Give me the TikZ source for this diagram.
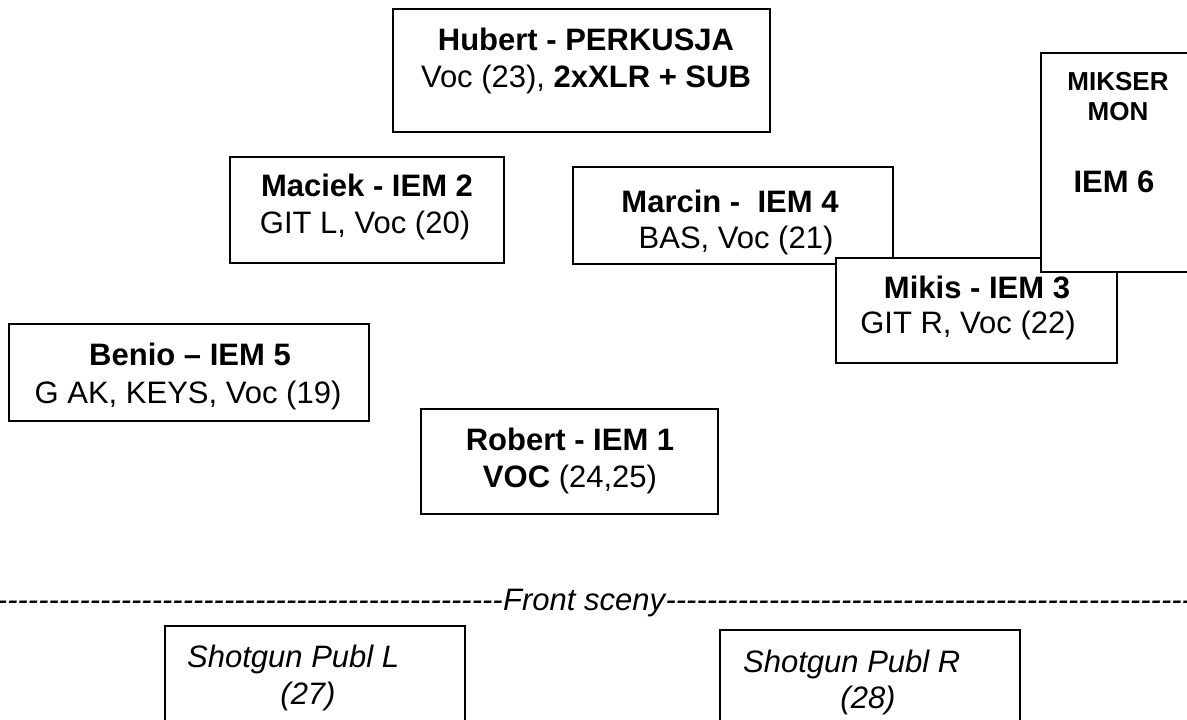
\documentclass[tikz,border=0pt]{standalone}
\usepackage{fontspec}
\setmainfont{Liberation Sans}
\newcommand\hyphrow[1]{\foreach \k in {1,...,#1}{-}}
\tikzset{
  box/.style={draw, line width=1.6pt, fill=white, rectangle, inner sep=0pt, outer sep=0pt, anchor=north west},
  reg/.style={anchor=base, inner sep=0pt, font=\fontsize{31}{37}\selectfont},
  bld/.style={anchor=base, inner sep=0pt, font=\fontsize{31}{37}\selectfont\bfseries},
  sml/.style={anchor=base, inner sep=0pt, font=\fontsize{26}{30}\selectfont\bfseries},
  ita/.style={anchor=base, inner sep=0pt, font=\fontsize{31}{37}\selectfont\itshape},
}
\begin{document}
\begin{tikzpicture}[x=1pt,y=-1pt]
\useasboundingbox (0,0) rectangle (1187,720);
% Hubert
\node[box, minimum width=377, minimum height=123] (hub) at (393,9) {};
\node[bld] (hubA) at (586,50) {Hubert - PERKUSJA};
\node[reg] (hubB) at (586,87) {Voc (23), \textbf{2xXLR + SUB}};
% Maciek
\node[box, minimum width=274, minimum height=106] (mac) at (230,157) {};
\node[bld] (macA) at (367,196) {Maciek - IEM 2};
\node[reg] (macB) at (365,233) {GIT L, Voc (20)};
% Marcin
\node[box, minimum width=320, minimum height=97] (mar) at (573,167) {};
\node[bld] (marA) at (730,212) {Marcin -\ \ IEM 4};
\node[reg] (marB) at (736,248) {BAS, Voc (21)};
% Mikis
\node[box, minimum width=281, minimum height=105] (mik) at (836,258) {};
\node[bld] (mikA) at (977,298) {Mikis - IEM 3};
\node[reg] (mikB) at (968,333) {GIT R, Voc (22)};
% Mikser
\node[box, minimum width=160, minimum height=219] (mon) at (1041,53) {};
\node[sml] (monA) at (1118,90) {MIKSER};
\node[sml] (monB) at (1118,120) {MON};
\node[bld] (monC) at (1114,192) {IEM 6};
% Benio
\node[box, minimum width=360, minimum height=97] (ben) at (9,324) {};
\node[bld] (benA) at (190,365) {Benio -- IEM 5};
\node[reg] (benB) at (188,403) {G AK, KEYS, Voc (19)};
% Robert
\node[box, minimum width=297, minimum height=105] (rob) at (421,409) {};
\node[bld] (robA) at (570,450) {Robert - IEM 1};
\node[reg] (robB) at (570,487) {\textbf{VOC} (24,25)};
% Front line
\node[ita, anchor=base west] (front) at (503,610) {Front sceny};
\node[ita, anchor=base east] (dl) at (front.base west) {\hyphrow{50}};
\node[ita, anchor=base west] (dr) at (front.base east) {\hyphrow{52}};
% Shotguns
\node[box, minimum width=300, minimum height=130] (shl) at (165,626) {};
\node[ita, anchor=base west] (shlA) at (187,667) {Shotgun Publ L};
\node[ita] (shlB) at (308,704) {(27)};
\node[box, minimum width=300, minimum height=120] (shr) at (720,630) {};
\node[ita, anchor=base west] (shrA) at (743,672) {Shotgun Publ R};
\node[ita] (shrB) at (868,708) {(28)};
\end{tikzpicture}
\end{document}
